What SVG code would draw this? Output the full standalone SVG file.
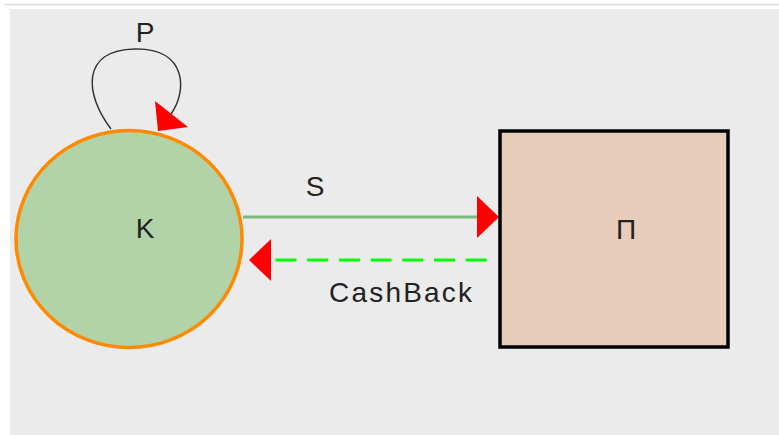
<svg xmlns="http://www.w3.org/2000/svg" width="779" height="435" viewBox="0 0 779 435">
<style>
text{font-family:"Liberation Sans",Arial,sans-serif;font-size:28px;fill:#222}
.arrow{fill:#ff0000;stroke:none}
</style>
<rect x="0" y="0" width="779" height="435" fill="#ffffff"/>
<line x1="4" y1="4.5" x2="779" y2="4.5" stroke="#dedede" stroke-width="1.5"/>
<rect x="10" y="9" width="769" height="426" fill="#ebebeb"/>
<g id="connectors">
  <g id="edge-P">
    <path d="M111,129 C85,95 80,50 135,49 C188,48 187,92 171,114" fill="none" stroke="#333" stroke-width="1.5"/>
    <polygon class="arrow" points="155,101 188,127 158,131"/>
    <text x="145" y="42" text-anchor="middle">P</text>
  </g>
  <g id="edge-S">
    <line x1="243" y1="217" x2="479" y2="217" stroke="#7cba7c" stroke-width="3"/>
    <polygon class="arrow" points="477,196 499,217 477,238"/>
    <text x="315" y="196" text-anchor="middle">S</text>
  </g>
  <g id="edge-CashBack">
    <line x1="275.5" y1="260" x2="487" y2="260" stroke="#00ff00" stroke-width="3" stroke-dasharray="21 10.7"/>
    <polygon class="arrow" points="271,239 249,260 271,281"/>
    <text x="329" y="302" textLength="143" lengthAdjust="spacing">CashBack</text>
  </g>
</g>
<g id="node-K">
  <ellipse cx="129" cy="239" rx="113" ry="108.5" fill="#b2d3a8" stroke="#ff8a00" stroke-width="3.5"/>
  <text x="145" y="238" text-anchor="middle">K</text>
</g>
<g id="node-Pi">
  <rect x="500" y="131" width="228" height="216" fill="#e8ccba" stroke="#000" stroke-width="3.5"/>
  <text x="626" y="239" text-anchor="middle">Π</text>
</g>
</svg>
